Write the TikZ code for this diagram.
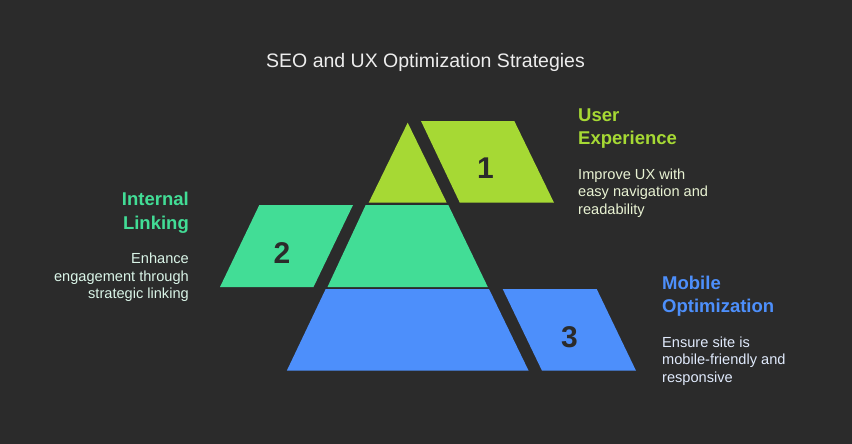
\documentclass[tikz,border=0pt]{standalone}
\usepackage{fontspec}
\setmainfont{Liberation Sans}
\definecolor{bgc}{HTML}{2B2B2B}
\definecolor{lime}{HTML}{A6D934}
\definecolor{mint}{HTML}{42DD96}
\definecolor{bluec}{HTML}{4D8FFB}
\definecolor{titlec}{HTML}{EDEDED}
\definecolor{limetxt}{HTML}{E9F3D3}
\definecolor{minttxt}{HTML}{DAF5E8}
\definecolor{bluetxt}{HTML}{E0EAFC}
\begin{document}
\begin{tikzpicture}[x=1pt,y=-1pt,
  numlabel/.style={font=\fontsize{30}{32}\selectfont\bfseries, text=bgc, inner sep=0pt},
  headl/.style={font=\fontsize{18.5}{23.3}\selectfont\bfseries, inner sep=0pt},
  descl/.style={font=\fontsize{14.6}{17.5}\selectfont, inner sep=0pt},
]
\fill[bgc] (0,0) rectangle (852,444);
\useasboundingbox (0,0) rectangle (852,444);

% title
\node[font=\fontsize{19.5}{24}\selectfont, text=titlec, anchor=base, inner sep=0pt] (title) at (425.5,67.7) {SEO and UX Optimization Strategies};

% pyramid
\fill[lime] (407.7,122.7) -- (446.7,202.7) -- (368.7,202.7) -- cycle;
\fill[mint] (365.7,205) -- (448.3,205) -- (487.8,287) -- (327.5,287) -- cycle;
\fill[bluec] (325.7,289) -- (489.0,289) -- (528.6,370.7) -- (286.8,370.7) -- cycle;

% side parallelograms
\fill[lime] (421,121) -- (514.3,121) -- (554,202.7) -- (459.8,202.7) -- cycle;
\fill[mint] (259.3,205) -- (353,205) -- (313.5,287) -- (220,287) -- cycle;
\fill[bluec] (502.7,289) -- (596.7,289) -- (636,370.7) -- (542,370.7) -- cycle;

\node[numlabel] (n1) at (485.5,168) {1};
\node[numlabel] (n2) at (282,253.5) {2};
\node[numlabel] (n3) at (569.5,337) {3};

% texts (anchored at the baseline of the last line)
\node[headl, text=lime, anchor=base west, align=left] (h1) at (578,144.3) {User\\Experience};
\node[descl, text=limetxt, anchor=base west, align=left] (d1) at (578,214) {Improve UX with\\easy navigation and\\readability};

\node[headl, text=mint, anchor=base east, align=right] (h2) at (189,229) {Internal\\Linking};
\node[descl, text=minttxt, anchor=base east, align=right] (d2) at (189,298.7) {Enhance\\engagement through\\strategic linking};

\node[headl, text=bluec, anchor=base west, align=left] (h3) at (662,312.7) {Mobile\\Optimization};
\node[descl, text=bluetxt, anchor=base west, align=left] (d3) at (662,382) {Ensure site is\\mobile-friendly and\\responsive};
\end{tikzpicture}
\end{document}
